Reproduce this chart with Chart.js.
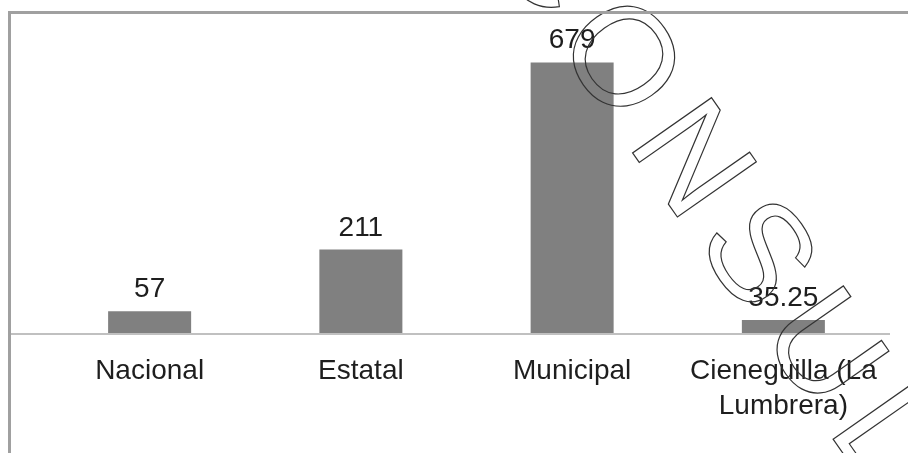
<!DOCTYPE html>
<html>
<head>
<meta charset="utf-8">
<script src="https://cdn.jsdelivr.net/npm/chart.js@4.4.1/dist/chart.umd.min.js"></script>
<style>
    html, body { margin: 0; padding: 0; background: #fff; }
    .wrap { position: relative; width: 908px; height: 453px; }
    .frame {
        position: absolute; left: 8px; top: 11px; right: 0; bottom: 0;
        border-top: 3px solid #a0a0a0; border-left: 3px solid #a0a0a0;
        pointer-events: none;
    }
</style>
</head>
<body>
<div class="wrap">
    <canvas id="barChart"></canvas>
    <div class="frame"></div>
</div>
<script>
// DATA
const categories = ['Nacional', 'Estatal', 'Municipal', ['Cieneguilla (La', 'Lumbrera)']];
const values = [57, 211, 679, 35.25];
const valueLabels = ['57', '211', '679', '35.25'];
const watermark = 'CONSULTA';

const FONT = '"Liberation Sans", Arial, sans-serif';

// value labels above bars + baseline + watermark
const decorPlugin = {
    id: 'decor',
    afterDatasetsDraw(chart) {
        const ctx = chart.ctx;
        const meta = chart.getDatasetMeta(0);
        const y0 = chart.scales.y.getPixelForValue(0);

        ctx.save();
        ctx.strokeStyle = '#c0c0c0';
        ctx.lineWidth = 2;
        ctx.beginPath();
        ctx.moveTo(10, y0);
        ctx.lineTo(890, y0);
        ctx.stroke();

        ctx.fillStyle = '#1e1e1e';
        ctx.font = '28px ' + FONT;
        ctx.textAlign = 'center';
        ctx.textBaseline = 'alphabetic';
        meta.data.forEach((bar, i) => {
            ctx.fillText(valueLabels[i], bar.x, bar.y - 14);
        });
        ctx.restore();
    },
    afterDraw(chart) {
        // outlined watermark across the right half
        const ctx = chart.ctx;
        const gap = 18;
        ctx.save();
        ctx.translate(616, 62);
        ctx.rotate(55 * Math.PI / 180);
        ctx.font = '140px ' + FONT;
        ctx.letterSpacing = gap + 'px';
        ctx.textBaseline = 'middle';
        ctx.textAlign = 'left';
        const pre = ctx.measureText('C').width + (ctx.measureText('O').width - gap) / 2;
        ctx.strokeStyle = '#333';
        ctx.lineWidth = 1.2;
        ctx.strokeText(watermark, -pre, 0);
        ctx.restore();
    }
};

new Chart(document.getElementById('barChart').getContext('2d'), {
    type: 'bar',
    data: {
        labels: categories,
        datasets: [{
            data: values,
            backgroundColor: '#808080',
            borderWidth: 0,
            barPercentage: 0.393,
            categoryPercentage: 1
        }]
    },
    options: {
        responsive: true,
        maintainAspectRatio: false,
        animation: false,
        events: [],
        layout: { padding: { left: 44, right: 19, top: 14, bottom: 9 } },
        plugins: {
            legend: { display: false },
            tooltip: { enabled: false }
        },
        scales: {
            y: {
                display: false,
                min: 0,
                max: 800
            },
            x: {
                grid: { display: false, drawTicks: false },
                border: { display: false },
                ticks: {
                    color: '#1e1e1e',
                    padding: 20,
                    maxRotation: 0,
                    autoSkip: false,
                    font: { family: FONT, size: 28, lineHeight: 1.25 }
                }
            }
        }
    },
    plugins: [decorPlugin]
});
</script>
</body>
</html>
